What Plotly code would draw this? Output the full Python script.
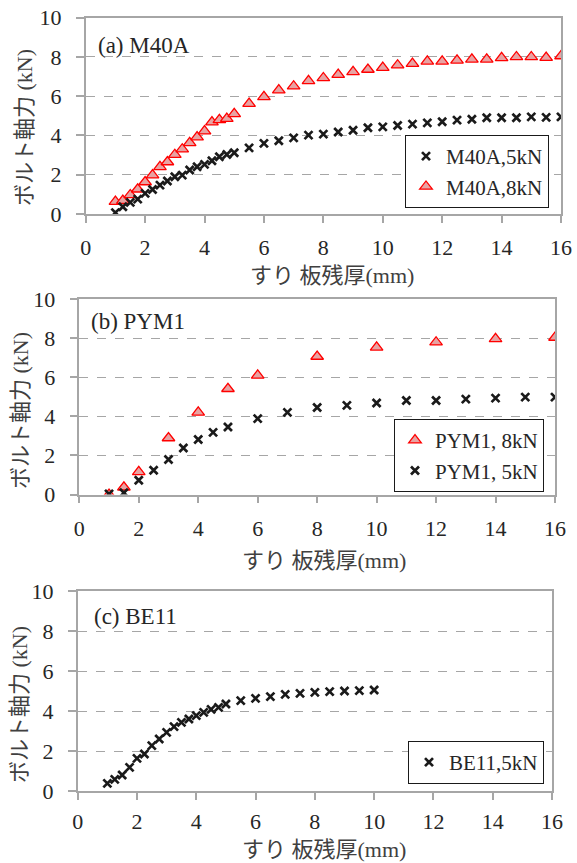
import plotly.graph_objects as go

W, H = 577, 863

# ---------------- data ----------------
# (a) M40A
m40a_x = [1, 1.25, 1.5, 1.75, 2, 2.25, 2.5, 2.75, 3, 3.25, 3.5, 3.75, 4, 4.25, 4.5, 4.75, 5,
          5.5, 6, 6.5, 7, 7.5, 8, 8.5, 9, 9.5, 10, 10.5, 11, 11.5, 12, 12.5, 13, 13.5, 14,
          14.5, 15, 15.5, 16]
m40a_5kn = [0.07, 0.37, 0.59, 0.76, 1.05, 1.25, 1.47, 1.68, 1.9, 1.98, 2.24, 2.41, 2.53, 2.71,
            2.92, 3.03, 3.12,
            3.37, 3.6, 3.73, 3.88, 4.02, 4.07, 4.18, 4.27, 4.39, 4.44, 4.51, 4.58, 4.64, 4.7,
            4.78, 4.83, 4.9, 4.9, 4.9, 4.95, 4.92, 4.95]
m40a_8kn = [0.63, 0.68, 0.97, 1.26, 1.63, 1.98, 2.4, 2.65, 3.02, 3.3, 3.62, 3.92, 4.22, 4.68,
            4.8, 4.86, 5.1,
            5.62, 5.97, 6.31, 6.51, 6.78, 6.93, 7.1, 7.24, 7.36, 7.46, 7.58, 7.66, 7.78, 7.78,
            7.83, 7.88, 7.88, 7.95, 8.0, 8.0, 7.97, 8.05]

# (b) PYM1
pym1_8kn_x = [1, 1.5, 2, 3, 4, 5, 6, 8, 10, 12, 14, 16]
pym1_8kn = [0.0, 0.37, 1.16, 2.89, 4.2, 5.41, 6.09, 7.06, 7.53, 7.79, 7.96, 8.03]
pym1_5kn_x = [1, 1.5, 2, 2.5, 3, 3.5, 4, 4.5, 5, 6, 7, 8, 9, 10, 11, 12, 13, 14, 15, 16]
pym1_5kn = [0.03, 0.09, 0.73, 1.24, 1.79, 2.38, 2.81, 3.18, 3.45, 3.88, 4.2, 4.45, 4.56, 4.68,
            4.81, 4.81, 4.88, 4.93, 4.98, 4.98]

# (c) BE11
be11_x = [1, 1.25, 1.5, 1.75, 2, 2.25, 2.5, 2.75, 3, 3.25, 3.5, 3.75, 4, 4.25, 4.5, 4.75, 5,
          5.5, 6, 6.5, 7, 7.5, 8, 8.5, 9, 9.5, 10]
be11_5kn = [0.38, 0.58, 0.8, 1.18, 1.63, 1.85, 2.27, 2.6, 2.93, 3.22, 3.43, 3.6, 3.77, 3.93,
            4.08, 4.18, 4.35,
            4.52, 4.63, 4.72, 4.83, 4.88, 4.93, 4.97, 5.0, 5.02, 5.05]

panel_labels = ["(a) M40A", "(b) PYM1", "(c) BE11"]
x_title = "すり 板残厚(mm)"
y_title = "ボルト軸力 (kN)"

# ---------------- styles ----------------
SERIF = "Liberation Serif, Times New Roman, serif"
MIXED = "Liberation Serif, Noto Sans CJK JP"
TXT = "#262626"
AXIS_GRAY = "#a6a6a6"

cross = dict(symbol="x-thin", size=8, color="#1a1a1a",
             line=dict(width=2.7, color="#1a1a1a"))
tri = dict(symbol="triangle-up", size=11, color="#e8a3a3",
           line=dict(width=1.3, color="#ff0000"))

# plot-area boxes in pixels: (left, right, top, bottom)
boxes = [(85.7, 561, 17.7, 214), (79.3, 555, 299, 494.5), (77.7, 552, 591, 791)]
# gap between tick marks and x tick labels, per panel
x_label_standoff = [6, 6, 3]

fig = go.Figure()

# (a)
fig.add_trace(go.Scatter(x=m40a_x, y=m40a_8kn, mode="markers", name="M40A,8kN",
                         marker=tri, xaxis="x", yaxis="y", legend="legend", legendrank=2))
fig.add_trace(go.Scatter(x=m40a_x, y=m40a_5kn, mode="markers", name="M40A,5kN",
                         marker=cross, xaxis="x", yaxis="y", legend="legend", legendrank=1))
# (b)
fig.add_trace(go.Scatter(x=pym1_8kn_x, y=pym1_8kn, mode="markers", name="PYM1, 8kN",
                         marker=tri, xaxis="x2", yaxis="y2", legend="legend2", legendrank=1))
fig.add_trace(go.Scatter(x=pym1_5kn_x, y=pym1_5kn, mode="markers", name="PYM1, 5kN",
                         marker=cross, xaxis="x2", yaxis="y2", legend="legend2", legendrank=2))
# (c)
fig.add_trace(go.Scatter(x=be11_x, y=be11_5kn, mode="markers", name="BE11,5kN",
                         marker=cross, xaxis="x3", yaxis="y3", legend="legend3"))


def px_x(v):
    return v / W


def px_y(v):
    return 1 - v / H


axis_common = dict(showline=True, mirror=True, linecolor=AXIS_GRAY, linewidth=1.5,
                   ticks="outside", tickcolor=AXIS_GRAY, tickwidth=1.5, zeroline=False,
                   automargin=False,
                   tickfont=dict(family=SERIF, size=22, color=TXT))

layout = dict(width=W, height=H,
              margin=dict(l=0, r=0, t=0, b=0, pad=0, autoexpand=False),
              paper_bgcolor="white", plot_bgcolor="white", showlegend=True,
              font=dict(family=SERIF, color=TXT))

annotations = []
for i, (l, r, t, b) in enumerate(boxes):
    sfx = "" if i == 0 else str(i + 1)
    layout["xaxis" + sfx] = dict(axis_common, domain=[px_x(l), px_x(r)], range=[0, 16],
                                 dtick=2, tick0=0, ticklen=7, showgrid=False,
                                 ticklabelstandoff=x_label_standoff[i], anchor="y" + sfx)
    layout["yaxis" + sfx] = dict(axis_common, domain=[px_y(b), px_y(t)], range=[0, 10],
                                 dtick=2, tick0=0, ticklen=8, showgrid=True,
                                 gridcolor=AXIS_GRAY, gridwidth=1.3, griddash="dash",
                                 ticklabelstandoff=10, anchor="x" + sfx)

title_pos = [
    # panel label (x, y), x-title centre (x, y), y-title centre (x, y)
    ((96, 45), (332, 275), (24, 128)),
    ((89.3, 321.7), (324, 560), (20, 411)),
    ((91.7, 616.7), (324, 849), (19, 705)),
]
for i, (lab, xt, yt) in enumerate(title_pos):
    annotations.append(dict(text=panel_labels[i], xref="paper", yref="paper",
                            x=px_x(lab[0]), y=px_y(lab[1]), xanchor="left", yanchor="middle",
                            showarrow=False, font=dict(family=SERIF, size=23, color=TXT)))
    annotations.append(dict(text=x_title, xref="paper", yref="paper",
                            x=px_x(xt[0]), y=px_y(xt[1]), xanchor="center", yanchor="middle",
                            showarrow=False, font=dict(family=MIXED, size=22, color="#404040")))
    annotations.append(dict(text=y_title, xref="paper", yref="paper", textangle=-90,
                            x=px_x(yt[0]), y=px_y(yt[1]), xanchor="center", yanchor="middle",
                            showarrow=False, font=dict(family=MIXED, size=22, color="#404040")))
layout["annotations"] = annotations

legend_common = dict(xref="paper", yref="paper", xanchor="right", yanchor="bottom",
                     bgcolor="white", bordercolor="#1a1a1a", borderwidth=1,
                     itemwidth=30, tracegroupgap=0,
                     font=dict(family=SERIF, size=21, color=TXT))
layout["legend"] = dict(legend_common, x=px_x(549), y=px_y(208))
layout["legend2"] = dict(legend_common, x=px_x(544), y=px_y(492))
layout["legend3"] = dict(legend_common, x=px_x(544), y=px_y(784))

fig.update_layout(**layout)
fig.write_html("out.html")
